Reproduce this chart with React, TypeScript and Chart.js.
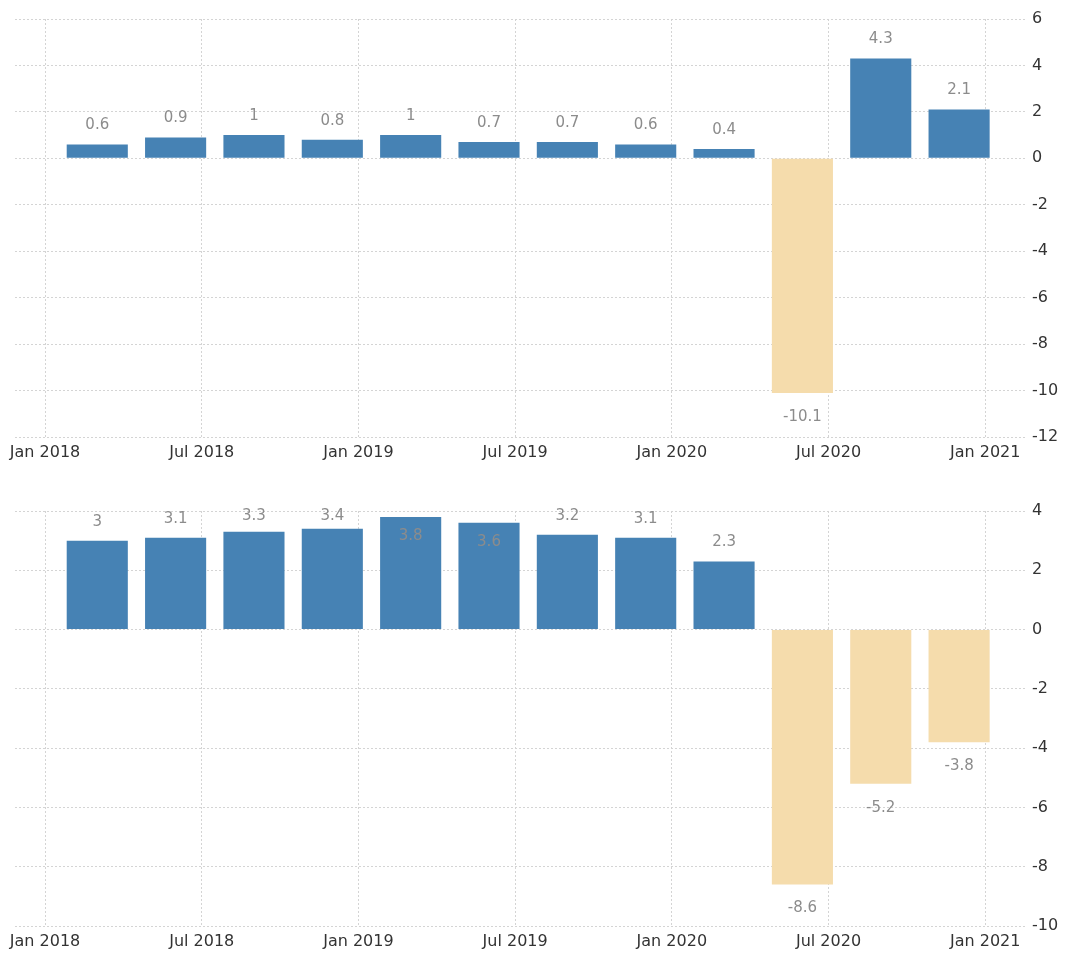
import React, { useEffect, useRef } from 'react';
import { Chart, registerables } from 'chart.js';

Chart.register(...registerables);

// ---- data ----
const quarterEnds = ['2018-03', '2018-06', '2018-09', '2018-12', '2019-03', '2019-06', '2019-09', '2019-12', '2020-03', '2020-06', '2020-09', '2020-12'];
const qoqValues = [0.6, 0.9, 1, 0.8, 1, 0.7, 0.7, 0.6, 0.4, -10.1, 4.3, 2.1];
const yoyValues = [3, 3.1, 3.3, 3.4, 3.8, 3.6, 3.2, 3.1, 2.3, -8.6, -5.2, -3.8];
const xTickLabels = ['Jan 2018', 'Jul 2018', 'Jan 2019', 'Jul 2019', 'Jan 2020', 'Jul 2020', 'Jan 2021'];
const topYTicks = [-12, -10, -8, -6, -4, -2, 0, 2, 4, 6];
const bottomYTicks = [-10, -8, -6, -4, -2, 0, 2, 4];

const BASE_YEAR = 2018;
const monthNames = ['Jan', 'Feb', 'Mar', 'Apr', 'May', 'Jun', 'Jul', 'Aug', 'Sep', 'Oct', 'Nov', 'Dec'];
const monthIndexOfQuarter = (s: string) => {
  const [y, m] = s.split('-').map(Number);
  return (y - BASE_YEAR) * 12 + (m - 1);
};
const monthIndexOfLabel = (label: string) => {
  const [mon, y] = label.split(' ');
  return (Number(y) - BASE_YEAR) * 12 + monthNames.indexOf(mon);
};

const BLUE = '#4682B4';
const BEIGE = '#F5DCAC';
const GRID = '#d4d4d4';
const FONT = '"DejaVu Sans", sans-serif';

const valueLabelPlugin = {
  id: 'valueLabels',
  afterDatasetsDraw(chart: any) {
    const { ctx, chartArea } = chart;
    const meta = chart.getDatasetMeta(0);
    const data = chart.data.datasets[0].data;
    ctx.save();
    ctx.font = '15px ' + FONT;
    ctx.fillStyle = '#8c8c8c';
    ctx.textAlign = 'center';
    ctx.textBaseline = 'middle';
    meta.data.forEach((bar: any, i: number) => {
      const v = data[i].y;
      let y: number;
      if (v >= 0) {
        y = bar.y - 19;
        const minY = chartArea.top + 5;
        if (y < minY) {
          y = minY;
          if (y + 8 >= bar.y) y = bar.y + 19;
        }
      } else {
        y = bar.y + 24;
      }
      ctx.fillText(String(v), bar.x, y);
    });
    ctx.restore();
  },
};

function makeConfig(values: number[], yTicks: number[], padTop: number, xAxisHeight: number) {
  return {
    type: 'bar' as const,
    data: {
      datasets: [
        {
          data: quarterEnds.map((q, i) => ({ x: monthIndexOfQuarter(q), y: values[i] })),
          backgroundColor: values.map((v) => (v >= 0 ? BLUE : BEIGE)),
          borderWidth: 0,
          barPercentage: 0.78,
          categoryPercentage: 1,
        },
      ],
    },
    options: {
      responsive: false,
      animation: false,
      devicePixelRatio: 1,
      layout: { padding: { left: 15, top: padTop, right: 0, bottom: 0 } },
      plugins: { legend: { display: false }, tooltip: { enabled: false } },
      scales: {
        x: {
          type: 'linear',
          offset: false,
          min: -1.15,
          max: 37.6,
          afterBuildTicks: (scale: any) => {
            scale.ticks = xTickLabels.map((l) => ({ value: monthIndexOfLabel(l) }));
          },
          afterFit: (scale: any) => {
            scale.height = xAxisHeight;
          },
          ticks: {
            autoSkip: false,
            maxRotation: 0,
            padding: 6,
            color: '#333',
            font: { family: FONT, size: 16 },
            callback: (value: number) => {
              const idx = xTickLabels.findIndex((l) => monthIndexOfLabel(l) === value);
              return idx >= 0 ? xTickLabels[idx] : '';
            },
          },
          grid: { color: GRID, drawTicks: false, offset: false },
          border: { display: false, dash: [2, 2] },
        },
        y: {
          position: 'right',
          min: yTicks[0],
          max: yTicks[yTicks.length - 1],
          afterBuildTicks: (scale: any) => {
            scale.ticks = yTicks.map((v) => ({ value: v }));
          },
          afterFit: (scale: any) => {
            scale.width = 38;
          },
          ticks: {
            padding: 5,
            color: '#333',
            font: { family: FONT, size: 16 },
            callback: (value: number) => String(value),
          },
          grid: { color: GRID, drawTicks: false },
          border: { display: false, dash: [2, 2] },
        },
      },
    },
    plugins: [valueLabelPlugin],
  };
}

function BarChart({ values, yTicks, top, height, padTop, xAxisHeight }: any) {
  const ref = useRef<HTMLCanvasElement | null>(null);
  useEffect(() => {
    if (!ref.current) return;
    const chart = new Chart(ref.current, makeConfig(values, yTicks, padTop, xAxisHeight) as any);
    return () => chart.destroy();
  }, []);
  return (
    <canvas
      ref={ref}
      width={1065}
      height={height}
      style={{ position: 'absolute', left: 0, top, width: 1065, height, display: 'block' }}
    />
  );
}

export default function App() {
  return (
    <div style={{ position: 'absolute', left: 0, top: 0, width: 1065, height: 960, background: '#fff' }}>
      <BarChart values={qoqValues} yTicks={topYTicks} top={0} height={470} padTop={19} xAxisHeight={33} />
      <BarChart values={yoyValues} yTicks={bottomYTicks} top={470} height={490} padTop={41} xAxisHeight={34} />
    </div>
  );
}
